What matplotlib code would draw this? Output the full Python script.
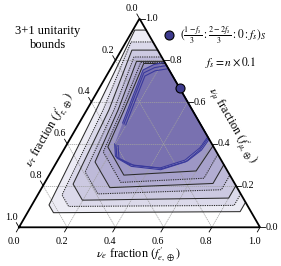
import numpy as np
import matplotlib
matplotlib.use('Agg')
import matplotlib.pyplot as plt
from matplotlib.patches import Polygon

plt.rcParams['font.family'] = ['Liberation Serif', 'DejaVu Serif']
plt.rcParams['mathtext.fontset'] = 'stix'

# ---------------- data ----------------
tick_values = [0.0, 0.2, 0.4, 0.6, 0.8, 1.0]
tick_labels = ['0.0', '0.2', '0.4', '0.6', '0.8', '1.0']

# allowed regions for f_s = n x 0.1 (outer -> inner); vertices as (nu_e fraction, nu_mu fraction)
c1_e = [0.071, 0.108, 0.880, 0.880, 0.055, 0.008, 0.039]
c1_mu = [0.107, 0.070, 0.075, 0.120, 0.945, 0.945, 0.562]
c2_e = [0.101, 0.156, 0.840, 0.840, 0.112, 0.021, 0.068]
c2_mu = [0.155, 0.100, 0.105, 0.160, 0.888, 0.888, 0.562]
c3_e = [0.121, 0.198, 0.800, 0.800, 0.151, 0.044, 0.092]
c3_mu = [0.207, 0.130, 0.140, 0.200, 0.849, 0.849, 0.562]
c4_e = [0.142, 0.247, 0.750, 0.750, 0.184, 0.069, 0.113]
c4_mu = [0.265, 0.160, 0.180, 0.250, 0.816, 0.816, 0.562]
c5_e = [0.159, 0.282, 0.700, 0.700, 0.205, 0.090, 0.130]
c5_mu = [0.313, 0.190, 0.210, 0.300, 0.795, 0.795, 0.562]
c6_e = [0.169, 0.315, 0.650, 0.650, 0.210, 0.110, 0.145]
c6_mu = [0.361, 0.215, 0.235, 0.350, 0.790, 0.790, 0.562]
c7_e = [0.176, 0.310, 0.600, 0.610, 0.215, 0.125, 0.155]
c7_mu = [0.385, 0.250, 0.270, 0.390, 0.785, 0.785, 0.562]

# innermost (f_s = 0) region
blob_e = [0.197, 0.230, 0.310, 0.443, 0.528, 0.560, 0.567, 0.210, 0.170, 0.138, 0.160, 0.180]
blob_mu = [0.400, 0.340, 0.300, 0.284, 0.322, 0.380, 0.433, 0.790, 0.780, 0.754, 0.620, 0.500]
blob2_e = [0.205, 0.240, 0.320, 0.450, 0.535, 0.565, 0.572, 0.225, 0.180, 0.148, 0.168, 0.188]
blob2_mu = [0.395, 0.332, 0.292, 0.276, 0.314, 0.372, 0.428, 0.775, 0.765, 0.740, 0.615, 0.495]
blob3_e = [0.215, 0.250, 0.330, 0.455, 0.540, 0.572, 0.578, 0.240, 0.190, 0.160, 0.178, 0.198]
blob3_mu = [0.392, 0.330, 0.296, 0.282, 0.318, 0.370, 0.422, 0.760, 0.750, 0.725, 0.610, 0.490]

marker_e = [1 / 3]
marker_mu = [2 / 3]

# ---------------- helpers ----------------
S3 = np.sqrt(3) / 2


def tern(e, mu):
    e = np.asarray(e, float)
    mu = np.asarray(mu, float)
    return e + mu / 2, mu * S3


def px(xp, yp):
    return (xp - 19) / 241.0, (227.3 - yp) / 241.0


fig = plt.figure(figsize=(2.81, 2.66), dpi=100)
ax = fig.add_axes([0, 0, 1, 1])
ax.set_xlim(-19 / 241, 262 / 241)
ax.set_ylim(-(266 - 227.3) / 241, 227.3 / 241)
ax.axis('off')

fillc = '#4a3f96'
contours = [(c1_e, c1_mu), (c2_e, c2_mu), (c3_e, c3_mu), (c4_e, c4_mu),
            (c5_e, c5_mu), (c6_e, c6_mu), (c7_e, c7_mu)]
for i, (ce, cm) in enumerate(contours):
    x, y = tern(ce, cm)
    ax.add_patch(Polygon(np.c_[x, y], closed=True, facecolor=fillc, alpha=0.1,
                         edgecolor='none', zorder=1))

bx, by = tern(blob_e, blob_mu)
ax.add_patch(Polygon(np.c_[bx, by], closed=True, facecolor=fillc, alpha=0.43,
                     edgecolor='none', zorder=1))

# grid
for v in [0.2, 0.4, 0.6, 0.8]:
    for (e0, m0), (e1, m1) in [((v, 0), (v, 1 - v)), ((0, v), (1 - v, v)), ((1 - v, 0), (0, 1 - v))]:
        x, y = tern([e0, e1], [m0, m1])
        ax.plot(x, y, color='#a0a0a0', lw=0.5, ls=(0, (2, 1)), zorder=2)

# contour outlines (skip the segment lying on the right edge)
for i, (ce, cm) in enumerate(contours):
    order = [4, 5, 6, 0, 1, 2, 3]
    x, y = tern([ce[k] for k in order], [cm[k] for k in order])
    ax.plot(x, y, color='#2b2b2b', lw=0.75, ls='-' if i % 2 == 0 else (0, (1.2, 1)), zorder=3)

for be, bm in [(blob_e, blob_mu), (blob2_e, blob2_mu), (blob3_e, blob3_mu)]:
    x, y = tern(be, bm)
    ax.plot(x, y, color='#3a3a9c', lw=0.8, zorder=4)

# triangle edges
tx, ty = tern([0, 1, 0, 0], [0, 0, 1, 0])
ax.plot(tx, ty, color='black', lw=1.3, zorder=5, solid_joinstyle='miter')

# ticks and labels
tl = 0.022
for v, lab in zip(tick_values, tick_labels):
    # bottom (nu_e)
    x0, y0 = tern(v, 0)
    ax.plot([x0, x0 - 0.5 * tl], [y0, y0 - S3 * tl], color='black', lw=0.6, zorder=5)
    ax.text(x0 - 0.023, y0 - 0.058, lab, ha='center', va='center', fontsize=7.3)
    # left (nu_tau): tau=v -> e=0, mu=1-v
    x0, y0 = tern(0, 1 - v)
    ax.plot([x0, x0 - 0.5 * tl], [y0, y0 + S3 * tl], color='black', lw=0.6, zorder=5)
    ax.text(x0 - 0.03, y0 + 0.042, lab, ha='center', va='center', fontsize=7.3)
    # right (nu_mu): mu=v -> e=1-v
    x0, y0 = tern(1 - v, v)
    ax.plot([x0, x0 + tl], [y0, y0], color='black', lw=0.6, zorder=5)
    ax.text(x0 + 0.05, y0, lab, ha='center', va='center', fontsize=7.3)

# axis labels
x, y = px(138, 255)
ax.text(x, y, r"$\nu_e$ fraction $(f^{\prime}_{e,\oplus})$", ha='center', va='center', fontsize=8.8)
x, y = px(50, 130)
ax.text(x, y, r"$\nu_\tau$ fraction $(f^{\prime}_{\tau,\oplus})$", ha='center', va='center',
        fontsize=8.8, rotation=60, rotation_mode='anchor')
x, y = px(231, 126)
ax.text(x, y, r"$\nu_\mu$ fraction $(f^{\prime}_{\mu,\oplus})$", ha='center', va='center',
        fontsize=8.8, rotation=-60, rotation_mode='anchor')

x, y = px(48, 38)
ax.text(x, y, "3+1 unitarity\nbounds", ha='center', va='center', fontsize=9, linespacing=1.25)

# source composition marker
mx, my = tern(marker_e, marker_mu)
ax.plot(mx, my, 'o', ms=6.5, mfc='#3d3a8e', mec='black', mew=0.8, zorder=6, clip_on=False)
x, y = px(169, 35)
ax.plot([x], [y], 'o', ms=6.5, mfc='#3d3a8e', mec='black', mew=0.8, zorder=6)
x, y = px(180, 35)
ax.text(x, y, r"$(\frac{1-f_s}{3}:\frac{2-2f_s}{3}:0:f_s)_S$", ha='left', va='center', fontsize=8.3)
x, y = px(231, 62)
ax.text(x, y, r"$f_s = n\times 0.1$", ha='center', va='center', fontsize=8.3)

fig.savefig('out.png', dpi=100)
